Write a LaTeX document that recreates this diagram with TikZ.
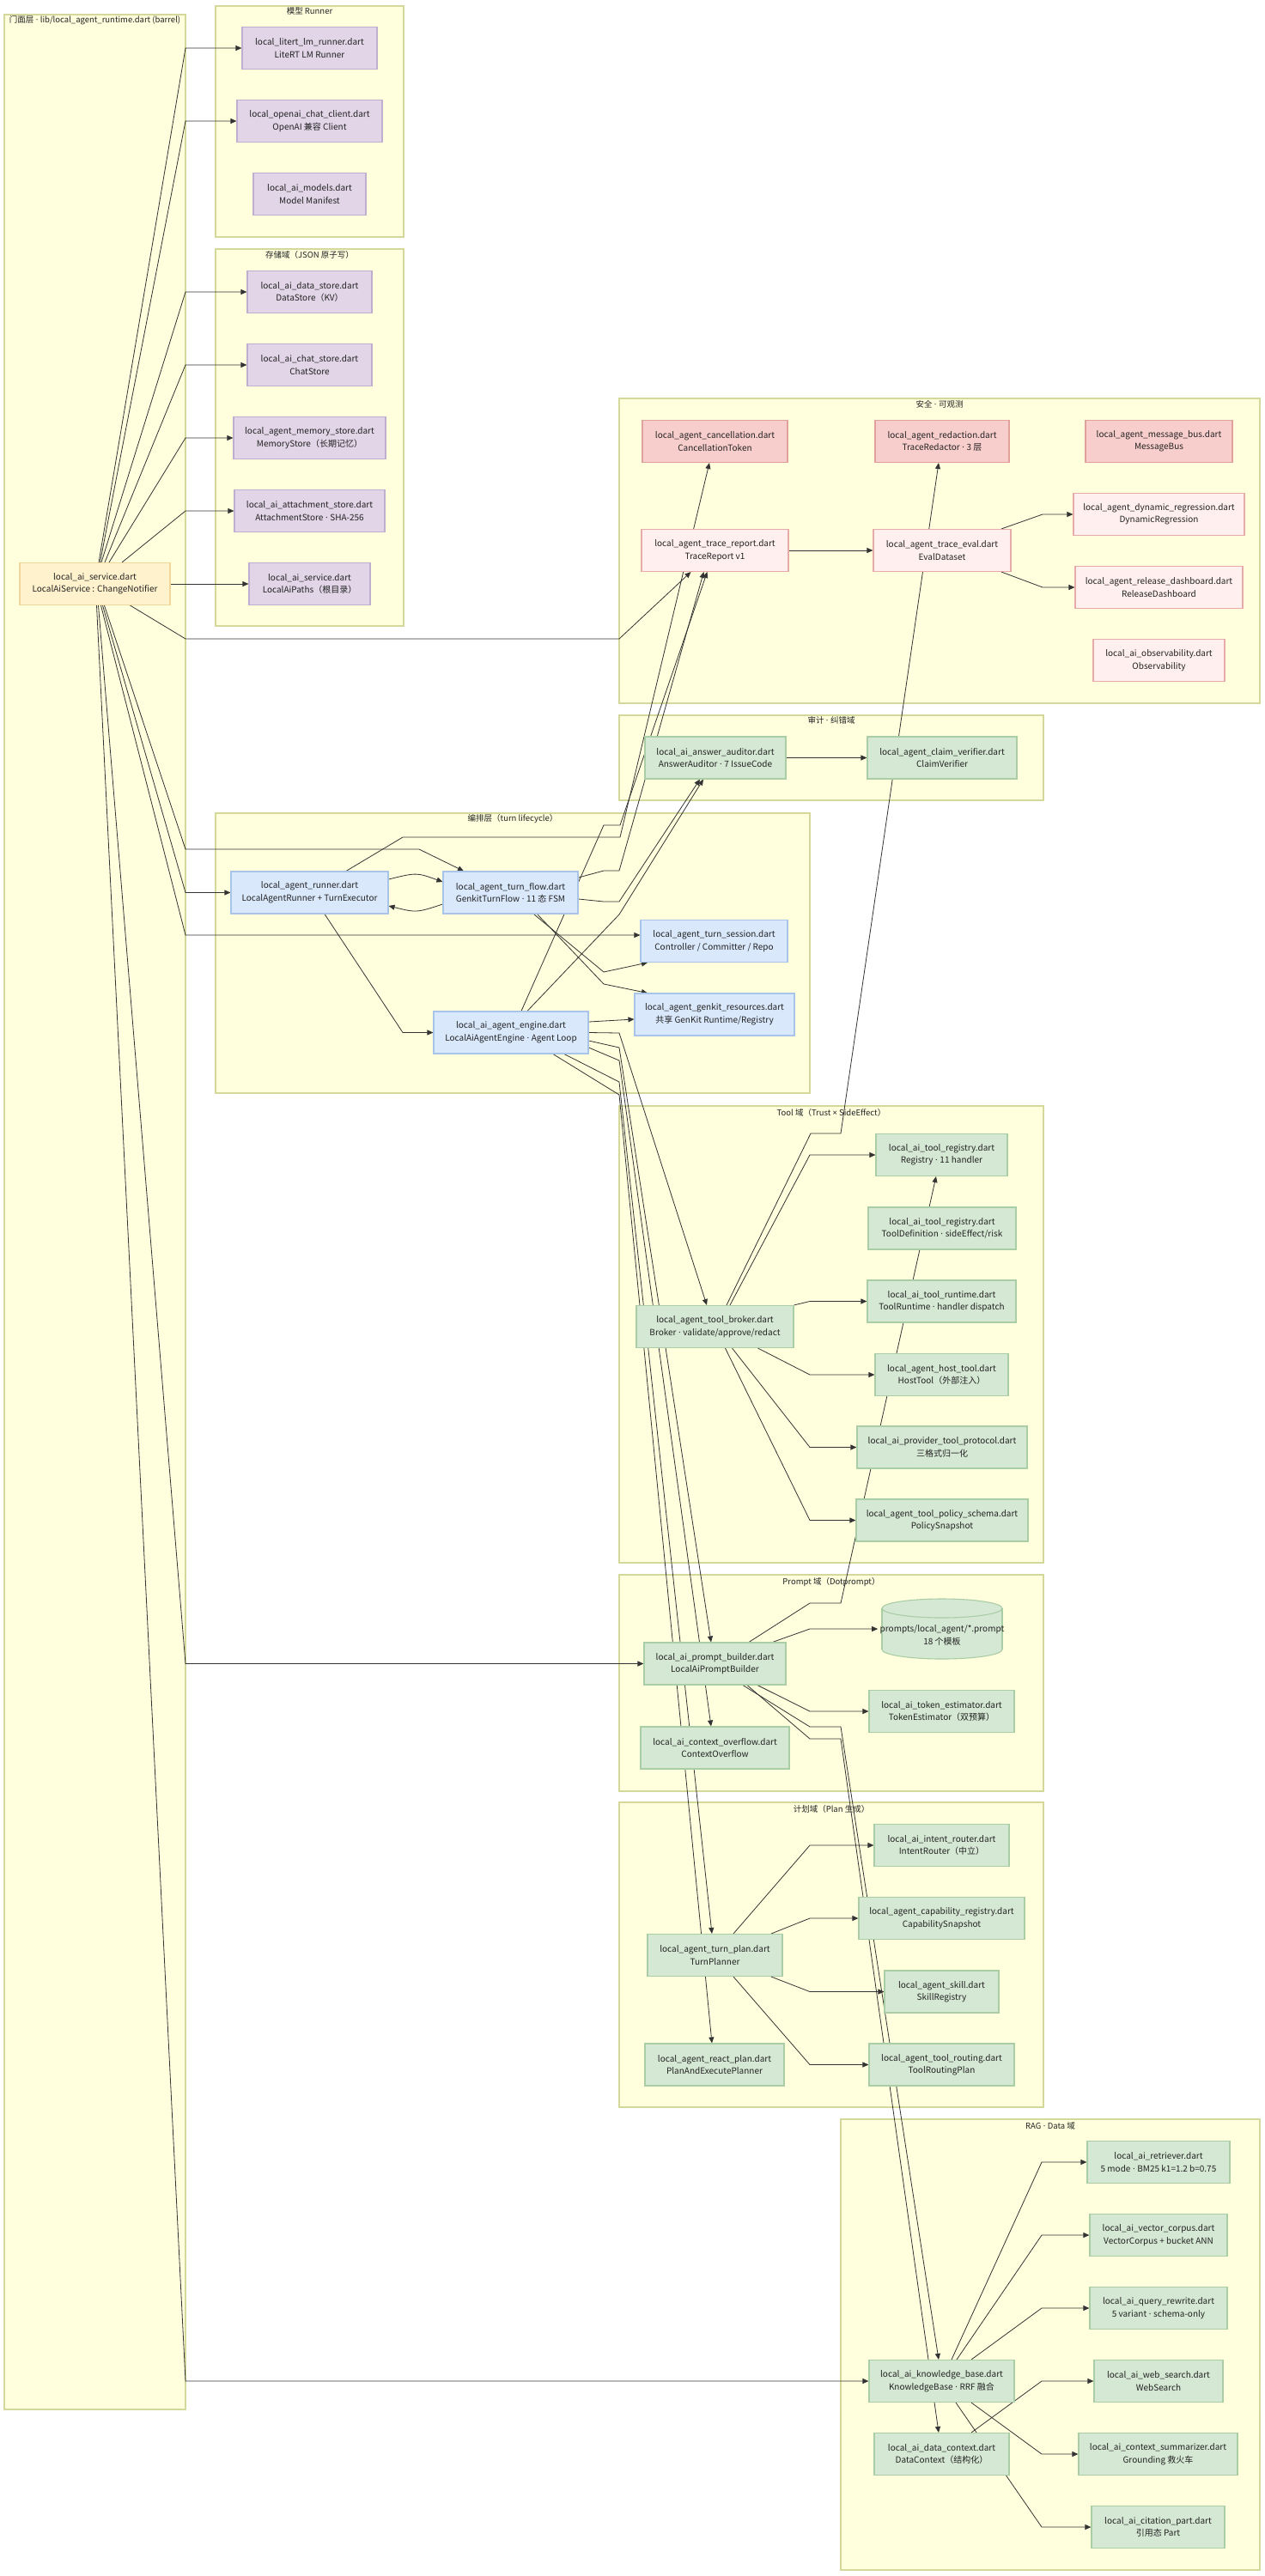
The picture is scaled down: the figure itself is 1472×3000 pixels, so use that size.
\documentclass[tikz,border=0pt]{standalone}
\usepackage{fontspec}
\setmainfont{Noto Sans CJK SC}
\newfontfamily\dotfont{Noto Sans}
\newcommand{\md}{{\dotfont\ ·\ }}
\newcommand{\mx}{{\dotfont ×}}
\usetikzlibrary{arrows.meta}
\definecolor{clf}{HTML}{FFFFDE}
\definecolor{cld}{HTML}{D4D99B}
\definecolor{purf}{HTML}{E1D5E7}
\definecolor{purd}{HTML}{BFAECF}
\definecolor{orf}{HTML}{FFF2CC}
\definecolor{ord}{HTML}{EFD69A}
\definecolor{pkf}{HTML}{F8CECC}
\definecolor{pkd}{HTML}{E0A09C}
\definecolor{plf}{HTML}{FFEFEF}
\definecolor{pld}{HTML}{E6AAA8}
\definecolor{blf}{HTML}{DAE8FC}
\definecolor{bld}{HTML}{A8C4E8}
\definecolor{grf}{HTML}{D5E8D4}
\definecolor{grd}{HTML}{A9CDA5}
\definecolor{edgec}{HTML}{333333}
\definecolor{txt}{HTML}{222222}
\pgfdeclarelayer{bg}
\pgfdeclarelayer{edges}
\pgfsetlayers{bg,edges,main}
\begin{document}
\begin{tikzpicture}[x=1pt,y=-1pt,
  box/.style={draw, line width=1.1pt, align=center, minimum height=49pt, inner sep=2pt,
    font=\fontsize{10}{14.5}\selectfont, text=txt},
  pur/.style={box, fill=purf, draw=purd},
  ora/.style={box, fill=orf, draw=ord},
  pkd/.style={box, fill=pkf, draw=pkd},
  pkl/.style={box, fill=plf, draw=pld},
  blu/.style={box, fill=blf, draw=bld},
  grn/.style={box, fill=grf, draw=grd},
  cl/.style={fill=clf, draw=cld, line width=1.2pt},
  cllab/.style={font=\fontsize{9.5}{12}\selectfont, text=txt, inner sep=1pt},
  ar/.style={draw=edgec, line width=0.8pt, -{Triangle[length=7pt,width=6pt]}},
]
\begin{pgfonlayer}{bg}
\fill[white] (0,0) rectangle (1472,3000);
\draw[cl] (5,17) rectangle (216,2806);
\draw[cl] (251,7) rectangle (470,276);
\draw[cl] (251,290) rectangle (470,729);
\draw[cl] (721,464) rectangle (1467,819);
\draw[cl] (721,833) rectangle (1215,932);
\draw[cl] (251,947) rectangle (943,1273);
\draw[cl] (721,1288) rectangle (1215,1820);
\draw[cl] (721,1834) rectangle (1215,2086);
\draw[cl] (721,2099) rectangle (1215,2454);
\draw[cl] (979,2468) rectangle (1467,2993);
\node[cllab] (lfacade) at (110.5,24) {门面层\md lib/local\_agent\_runtime.dart (barrel)};
\node[cllab] (lmodel) at (360.5,13) {模型 Runner};
\node[cllab] (lstore) at (360.5,297) {存储域（JSON 原子写）};
\node[cllab] (lsec) at (1094,471) {安全\md 可观测};
\node[cllab] (laudit) at (968,839) {审计\md 纠错域};
\node[cllab] (lorch) at (597,954) {编排层（turn lifecycle）};
\node[cllab] (ltool) at (968,1296) {Tool 域（Trust \mx{} SideEffect）};
\node[cllab] (lprompt) at (968,1842) {Prompt 域（Dotprompt）};
\node[cllab] (lplan) at (968,2107) {计划域（Plan 生成）};
\node[cllab] (lrag) at (1223,2476) {RAG\md Data 域};
\end{pgfonlayer}
\useasboundingbox (0,0) rectangle (1472,3000);

% Model runner
\node[pur, minimum width=157pt] (litert) at (360.5,56) {local\_litert\_lm\_runner.dart\\LiteRT LM Runner};
\node[pur, minimum width=169pt] (openai) at (360.5,141) {local\_openai\_chat\_client.dart\\OpenAI 兼容 Client};
\node[pur, minimum width=131pt] (models) at (360.5,226) {local\_ai\_models.dart\\Model Manifest};
% Storage
\node[pur, minimum width=145pt] (datastore) at (360.5,340) {local\_ai\_data\_store.dart\\DataStore（KV）};
\node[pur, minimum width=145pt] (chatstore) at (360.5,425) {local\_ai\_chat\_store.dart\\ChatStore};
\node[pur, minimum width=177pt] (memstore) at (360.5,510) {local\_agent\_memory\_store.dart\\MemoryStore（长期记忆）};
\node[pur, minimum width=175pt] (attach) at (360.5,595) {local\_ai\_attachment\_store.dart\\AttachmentStore\md SHA-256};
\node[pur, minimum width=141pt] (paths) at (360.5,680) {local\_ai\_service.dart\\LocalAiPaths（根目录）};
% Facade
\node[ora, minimum width=175pt] (service) at (110.5,680) {local\_ai\_service.dart\\LocalAiService : ChangeNotifier};
% Security
\node[pkd, minimum width=169pt] (cancel) at (832.5,514) {local\_agent\_cancellation.dart\\CancellationToken};
\node[pkd, minimum width=156pt] (redact) at (1097,514) {local\_agent\_redaction.dart\\TraceRedactor\md 3 层};
\node[pkd, minimum width=171pt] (msgbus) at (1349.5,514) {local\_agent\_message\_bus.dart\\MessageBus};
\node[pkl, minimum width=171pt] (tracerep) at (832.5,641) {local\_agent\_trace\_report.dart\\TraceReport v1};
\node[pkl, minimum width=160pt] (traceeval) at (1097,641) {local\_agent\_trace\_eval.dart\\EvalDataset};
\node[pkl, minimum width=199pt] (dynreg) at (1349.5,599) {local\_agent\_dynamic\_regression.dart\\DynamicRegression};
\node[pkl, minimum width=195pt] (reldash) at (1349.5,684) {local\_agent\_release\_dashboard.dart\\ReleaseDashboard};
\node[pkl, minimum width=153pt] (observ) at (1349.5,769) {local\_ai\_observability.dart\\Observability};
% Audit
\node[grn, minimum width=164pt] (auditor) at (833,882.5) {local\_ai\_answer\_auditor.dart\\AnswerAuditor\md 7 IssueCode};
\node[grn, minimum width=174pt] (claim) at (1097,882.5) {local\_agent\_claim\_verifier.dart\\ClaimVerifier};
% Orchestration
\node[blu, minimum width=183pt] (runner) at (360.5,1039.5) {local\_agent\_runner.dart\\LocalAgentRunner + TurnExecutor};
\node[blu, minimum width=157pt] (turnflow) at (594.5,1039.5) {local\_agent\_turn\_flow.dart\\GenkitTurnFlow\md 11 态 FSM};
\node[blu, minimum width=171pt] (session) at (831.5,1096) {local\_agent\_turn\_session.dart\\Controller / Committer / Repo};
\node[blu, minimum width=186pt] (genkit) at (832,1181.5) {local\_agent\_genkit\_resources.dart\\共享 GenKit Runtime/Registry};
\node[blu, minimum width=180pt] (engine) at (595,1202.5) {local\_ai\_agent\_engine.dart\\LocalAiAgentEngine\md Agent Loop};
% Tool
\node[grn, minimum width=153pt] (registry) at (1096.5,1345) {local\_ai\_tool\_registry.dart\\Registry\md 11 handler};
\node[grn, minimum width=172pt] (tooldef) at (1097,1430.5) {local\_ai\_tool\_registry.dart\\ToolDefinition\md sideEffect/risk};
\node[grn, minimum width=173pt] (runtime) at (1096.5,1515.5) {local\_ai\_tool\_runtime.dart\\ToolRuntime\md handler dispatch};
\node[grn, minimum width=155pt] (hosttool) at (1096.5,1601) {local\_agent\_host\_tool.dart\\HostTool（外部注入）};
\node[grn, minimum width=198pt] (protocol) at (1097,1685.5) {local\_ai\_provider\_tool\_protocol.dart\\三格式归一化};
\node[grn, minimum width=200pt] (policy) at (1097,1770.5) {local\_agent\_tool\_policy\_schema.dart\\PolicySnapshot};
\node[grn, minimum width=183pt] (broker) at (832.5,1545) {local\_agent\_tool\_broker.dart\\Broker\md validate/approve/redact};
% Prompt
\fill[grf] (1027,1873) rectangle (1167,1921);
\filldraw[fill=grf, draw=grd, line width=1.1pt] (1097,1921) ellipse [x radius=70, y radius=11];
\fill[grf] (1027,1873) rectangle (1167,1921);
\draw[grd, line width=1.1pt] (1027,1873) -- (1027,1921) (1167,1873) -- (1167,1921);
\filldraw[fill=grf, draw=grd, line width=1.1pt] (1097,1873) ellipse [x radius=70, y radius=11];
\node[box, draw=none, fill=none, minimum width=140pt, minimum height=20pt] (promptstore) at (1097,1904.5) {prompts/local\_agent/*.prompt\\18 个模板};
\node[grn, minimum width=169pt] (tokenest) at (1096.5,1993) {local\_ai\_token\_estimator.dart\\TokenEstimator（双预算）};
\node[grn, minimum width=165pt] (pbuilder) at (832.5,1937.5) {local\_ai\_prompt\_builder.dart\\LocalAiPromptBuilder};
\node[grn, minimum width=173pt] (ctxover) at (832.5,2035.5) {local\_ai\_context\_overflow.dart\\ContextOverflow};
% Plan
\node[grn, minimum width=157pt] (intent) at (1096.5,2149) {local\_ai\_intent\_router.dart\\IntentRouter（中立）};
\node[grn, minimum width=193pt] (capab) at (1096.5,2234) {local\_agent\_capability\_registry.dart\\CapabilitySnapshot};
\node[grn, minimum width=133pt] (skill) at (1096.5,2319.5) {local\_agent\_skill.dart\\SkillRegistry};
\node[grn, minimum width=169pt] (toolrout) at (1096.5,2404.5) {local\_agent\_tool\_routing.dart\\ToolRoutingPlan};
\node[grn, minimum width=157pt] (turnplan) at (832.5,2277) {local\_agent\_turn\_plan.dart\\TurnPlanner};
\node[grn, minimum width=162pt] (reactplan) at (832,2404.5) {local\_agent\_react\_plan.dart\\PlanAndExecutePlanner};
% RAG
\node[grn, minimum width=166pt] (retriever) at (1349,2518) {local\_ai\_retriever.dart\\5 mode\md BM25 k1=1.2 b=0.75};
\node[grn, minimum width=160pt] (vector) at (1349,2603) {local\_ai\_vector\_corpus.dart\\VectorCorpus + bucket ANN};
\node[grn, minimum width=160pt] (qrewrite) at (1349,2688) {local\_ai\_query\_rewrite.dart\\5 variant\md schema-only};
\node[grn, minimum width=150pt] (websearch) at (1349,2773) {local\_ai\_web\_search.dart\\WebSearch};
\node[grn, minimum width=185pt] (summar) at (1348.5,2858) {local\_ai\_context\_summarizer.dart\\Grounding 救火车};
\node[grn, minimum width=155pt] (citation) at (1348.5,2943) {local\_ai\_citation\_part.dart\\引用态 Part};
\node[grn, minimum width=169pt] (kb) at (1096.5,2773) {local\_ai\_knowledge\_base.dart\\KnowledgeBase\md RRF 融合};
\node[grn, minimum width=157pt] (datactx) at (1096.5,2858) {local\_ai\_data\_context.dart\\DataContext（结构化）};

\begin{pgfonlayer}{edges}
% service fan
\draw[ar] ([xshift=4.5pt]service.north) -- (216,56) -- (litert.west);
\draw[ar] ([xshift=6pt]service.north) -- (216,141) -- (openai.west);
\draw[ar] ([xshift=7.5pt]service.north) -- (216,340) -- (datastore.west);
\draw[ar] ([xshift=11.5pt]service.north) -- (216,425) -- (chatstore.west);
\draw[ar] ([xshift=16.5pt]service.north) -- (216,510) -- (memstore.west);
\draw[ar] ([xshift=31.5pt]service.north) -- (216,595) -- (attach.west);
\draw[ar] (service.east) -- (paths.west);
\draw[ar] ([xshift=41pt]service.south) -- (216,744) -- (721,744) -- ([xshift=-28pt]tracerep.south);
\draw[ar] ([xshift=11pt]service.south) -- (216,989) -- (488,989) -- ([xshift=-54.5pt]turnflow.north);
\draw[ar] ([xshift=9pt]service.south) -- (216,1039.5) -- (runner.west);
\draw[ar] ([xshift=7pt]service.south) -- (216,1089) -- ([yshift=7pt]session.west);
\draw[ar] ([xshift=4pt]service.south) -- (216,1937.5) -- (pbuilder.west);
\draw[ar] ([xshift=2pt]service.south) -- (216,2773) -- (kb.west);
% security
\draw[ar] (tracerep.east) -- (traceeval.west);
\draw[ar] ([xshift=69pt]traceeval.north) -- (1214,599) -- (dynreg.west);
\draw[ar] ([xshift=69pt]traceeval.south) -- (1214,684) -- (reldash.west);
% audit
\draw[ar] (auditor.east) -- (claim.west);
% orchestration
\draw[ar] ([yshift=15.5pt]runner.east) .. controls (485,1016) .. ([yshift=12.5pt]turnflow.west);
\draw[ar] ([yshift=-13.5pt]turnflow.west) .. controls (485,1063) .. ([yshift=-15.5pt]runner.east);
\draw[ar] ([xshift=17.5pt]runner.south) -- (469,1202.5) -- (engine.west);
\draw[ar] ([xshift=42.5pt]runner.north) -- (469,975) -- (722,975) -- ([xshift=-6.5pt]cancel.south);
\draw[ar] ([xshift=27pt]turnflow.south) -- (703,1132) -- ([xshift=-77.5pt]session.south);
\draw[ar] ([xshift=31pt]turnflow.south) -- (703,1146) -- ([xshift=-78pt]genkit.north);
\draw[ar] ([yshift=12.5pt]engine.east) -- ([yshift=-5.5pt]genkit.west);
\draw[ar] ([yshift=17.5pt]turnflow.east) -- (703,1014) -- (721,1014) -- ([xshift=-13pt]tracerep.south);
\draw[ar] ([xshift=12pt]engine.north) -- (703,961) -- (722,961) -- ([xshift=-9pt]tracerep.south);
\draw[ar] ([yshift=-7.5pt]turnflow.east) -- (703,1050) -- (721,1050) -- ([xshift=-18pt]auditor.south);
\draw[ar] ([xshift=19pt]engine.north) -- (721,1065) -- ([xshift=-14pt]auditor.south);
% engine down fan
\draw[ar] (engine.east) -- (721,1203) -- ([xshift=-9.5pt]broker.north);
\draw[ar] ([yshift=-9.5pt]engine.east) -- (721,1220) -- ([xshift=-4.5pt]pbuilder.north);
\draw[ar] ([yshift=-17.5pt]engine.east) -- (721,1235) -- ([xshift=-4.5pt]ctxover.north);
\draw[ar] ([xshift=62pt]engine.south) -- (721,1260) -- ([xshift=-3.5pt]turnplan.north);
\draw[ar] ([xshift=49pt]engine.south) -- (721,1275) -- ([xshift=-3pt]reactplan.north);
% tool
\draw[ar] ([xshift=17.5pt]broker.north) -- (943,1345) -- (registry.west);
\draw[ar] (broker.north east) -- (943,1515.5) -- (runtime.west);
\draw[ar] ([xshift=50pt]broker.south) -- (943,1601) -- (hosttool.west);
\draw[ar] ([xshift=20pt]broker.south) -- (943,1685.5) -- (protocol.west);
\draw[ar] ([xshift=12pt]broker.south) -- (943,1770.5) -- (policy.west);
\draw[ar] ([xshift=13.5pt]broker.north) -- (944,1320) -- (979,1320) -- ([xshift=-4pt]redact.south);
% prompt
\draw[ar] ([xshift=67pt]pbuilder.north) -- (943,1897) -- ([yshift=7.5pt]promptstore.west);
\draw[ar] ([xshift=39.5pt]pbuilder.north) -- (943,1867) -- (979,1867) -- ([xshift=-6.5pt]registry.south);
\draw[ar] ([xshift=49.5pt]pbuilder.south) -- (943,1993) -- (tokenest.west);
\draw[ar] ([xshift=32.5pt]pbuilder.south) -- (943,2011) -- (979,2011) -- ([xshift=-3.5pt]kb.north);
\draw[ar] ([xshift=37.5pt]pbuilder.south) -- (943,2025) -- (979,2025) -- ([xshift=-3.5pt]datactx.north);
% plan
\draw[ar] ([xshift=21.5pt]turnplan.north) -- (943,2149) -- (intent.west);
\draw[ar] ([xshift=65.5pt]turnplan.north) -- (943,2234) -- (capab.west);
\draw[ar] ([xshift=65.5pt]turnplan.south) -- (943,2319.5) -- (skill.west);
\draw[ar] ([xshift=21.5pt]turnplan.south) -- (943,2404.5) -- (toolrout.west);
% rag
\draw[ar] ([xshift=11.5pt]kb.north) -- (1213,2518) -- (retriever.west);
\draw[ar] ([xshift=17.5pt]kb.north) -- (1213,2603) -- (vector.west);
\draw[ar] ([xshift=34.5pt]kb.north) -- (1213,2688) -- (qrewrite.west);
\draw[ar] ([xshift=34.5pt]kb.south) -- (1213,2858) -- (summar.west);
\draw[ar] ([xshift=16.5pt]kb.south) -- (1213,2943) -- (citation.west);
\draw[ar] ([xshift=34.5pt]datactx.north) -- (1213,2773) -- (websearch.west);
\end{pgfonlayer}
\end{tikzpicture}
\end{document}
